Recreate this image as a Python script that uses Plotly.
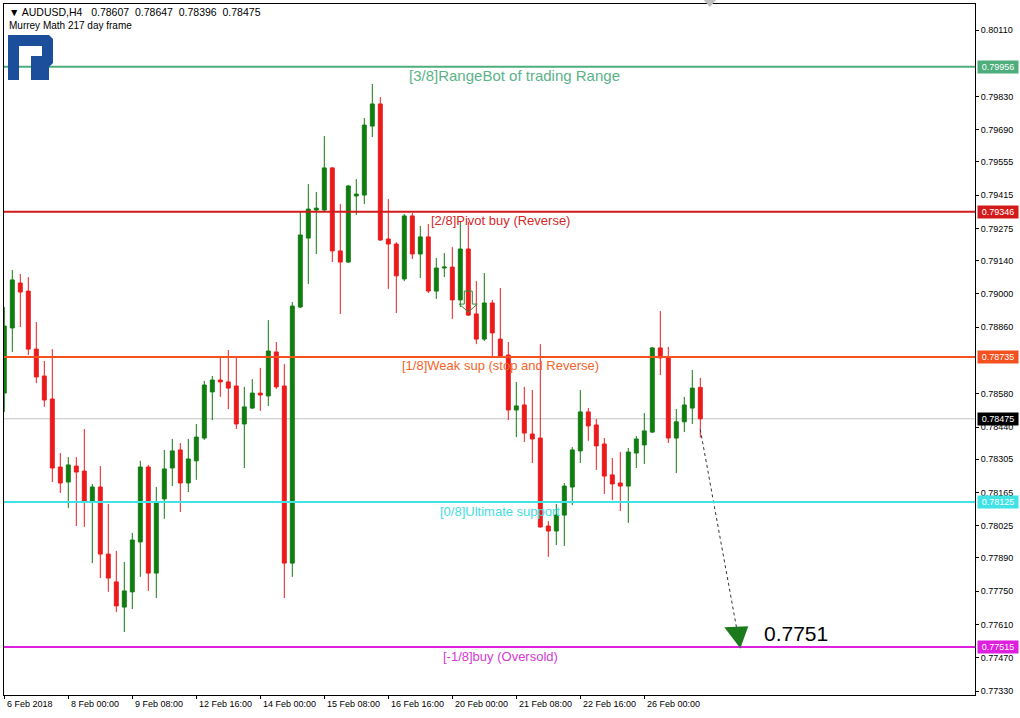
import plotly.graph_objects as go

# ---------------- data ----------------
symbol = "AUDUSD"
timeframe = "H4"
indicator_title = "Murrey Math 217 day frame"

time_labels = ["6 Feb 2018", "8 Feb 00:00", "9 Feb 08:00", "12 Feb 16:00", "14 Feb 00:00",
               "15 Feb 08:00", "16 Feb 16:00", "20 Feb 00:00", "21 Feb 08:00", "22 Feb 16:00",
               "26 Feb 00:00"]
label_bars = [0, 8, 16, 24, 32, 40, 48, 56, 64, 72, 80]

open_ = [0.78583, 0.78857, 0.79046, 0.79012, 0.78768, 0.78655, 0.78558, 0.78272, 0.78209, 0.78276,
         0.78255, 0.78125, 0.78188, 0.77906, 0.77789, 0.77683, 0.77747, 0.77957, 0.78272, 0.77826,
         0.78138, 0.78268, 0.78344, 0.78205, 0.78298, 0.78394, 0.78588, 0.78638, 0.78630, 0.78613,
         0.78453, 0.78520, 0.78583, 0.78571, 0.78756, 0.78613, 0.77868, 0.78945, 0.79235, 0.79353,
         0.79353, 0.79530, 0.79181, 0.79134, 0.79412, 0.79416, 0.79706, 0.79799, 0.79231, 0.79210,
         0.79063, 0.79328, 0.79168, 0.79240, 0.79012, 0.79109, 0.79113, 0.78975, 0.79189, 0.78916,
         0.78810, 0.78962, 0.78810, 0.78743, 0.78512, 0.78533, 0.78411, 0.78394, 0.78024, 0.78003,
         0.78070, 0.78188, 0.78340, 0.78504, 0.78449, 0.78369, 0.78239, 0.78205, 0.78192, 0.78331,
         0.78365, 0.78419, 0.78773, 0.78735, 0.78394, 0.78462, 0.78520, 0.78607]
high = [0.78945, 0.79101, 0.79084, 0.79071, 0.78882, 0.78718, 0.78768, 0.78331, 0.78314, 0.78314,
        0.78432, 0.78201, 0.78276, 0.78117, 0.77919, 0.77873, 0.77995, 0.78298, 0.78281, 0.78188,
        0.78344, 0.78390, 0.78373, 0.78390, 0.78453, 0.78634, 0.78655, 0.78735, 0.78764, 0.78735,
        0.78609, 0.78642, 0.78689, 0.78890, 0.78798, 0.78705, 0.78966, 0.79345, 0.79462, 0.79429,
        0.79664, 0.79534, 0.79378, 0.79458, 0.79483, 0.79740, 0.79883, 0.79828, 0.79399, 0.79218,
        0.79336, 0.79340, 0.79286, 0.79294, 0.79151, 0.79172, 0.79197, 0.79303, 0.79303, 0.79054,
        0.79088, 0.78975, 0.79025, 0.78798, 0.78630, 0.78609, 0.78596, 0.78789, 0.78045, 0.78117,
        0.78205, 0.78356, 0.78596, 0.78520, 0.78474, 0.78394, 0.78310, 0.78335, 0.78352, 0.78403,
        0.78499, 0.78777, 0.78928, 0.78777, 0.78516, 0.78567, 0.78680, 0.78647]
low = [0.78504, 0.78756, 0.78861, 0.78743, 0.78625, 0.78525, 0.78209, 0.78163, 0.78100, 0.78024,
       0.78020, 0.77868, 0.77805, 0.77747, 0.77662, 0.77578, 0.77675, 0.77810, 0.77751, 0.77721,
       0.78054, 0.78192, 0.78083, 0.78167, 0.78218, 0.78386, 0.78470, 0.78567, 0.78516, 0.78432,
       0.78268, 0.78516, 0.78508, 0.78529, 0.78600, 0.77721, 0.77810, 0.78941, 0.79042, 0.79168,
       0.79345, 0.79134, 0.78916, 0.79130, 0.79332, 0.79378, 0.79660, 0.79223, 0.79021, 0.78920,
       0.79054, 0.79147, 0.79067, 0.79004, 0.78979, 0.79071, 0.78895, 0.78945, 0.78907, 0.78789,
       0.78802, 0.78739, 0.78736, 0.78470, 0.78398, 0.78377, 0.78289, 0.78018, 0.77894, 0.77944,
       0.77940, 0.78112, 0.78289, 0.78382, 0.78260, 0.78159, 0.78133, 0.78087, 0.78037, 0.78268,
       0.78285, 0.78415, 0.78659, 0.78373, 0.78247, 0.78419, 0.78453, 0.78396]
close = [0.78865, 0.79059, 0.79008, 0.78768, 0.78651, 0.78554, 0.78268, 0.78205, 0.78281, 0.78251,
         0.78125, 0.78188, 0.77906, 0.77805, 0.77688, 0.77751, 0.77965, 0.78272, 0.77826, 0.78125,
         0.78264, 0.78340, 0.78205, 0.78306, 0.78398, 0.78617, 0.78638, 0.78630, 0.78604, 0.78453,
         0.78525, 0.78583, 0.78575, 0.78760, 0.78609, 0.77868, 0.78949, 0.79248, 0.79357, 0.79361,
         0.79530, 0.79181, 0.79134, 0.79454, 0.79420, 0.79710, 0.79799, 0.79227, 0.79210, 0.79076,
         0.79328, 0.79168, 0.79240, 0.79012, 0.79109, 0.79113, 0.78975, 0.79189, 0.78911, 0.78810,
         0.78962, 0.78836, 0.78739, 0.78512, 0.78529, 0.78415, 0.78390, 0.78020, 0.78003, 0.78070,
         0.78192, 0.78344, 0.78504, 0.78445, 0.78361, 0.78234, 0.78201, 0.78192, 0.78335, 0.78390,
         0.78424, 0.78773, 0.78731, 0.78394, 0.78462, 0.78533, 0.78604, 0.78475]

# price scale ticks (those hidden behind the level boxes in the reference are left out)
price_ticks = [0.80110, 0.79830, 0.79690, 0.79555, 0.79415, 0.79275, 0.79140, 0.79000,
               0.78860, 0.78580, 0.78440, 0.78305, 0.78165, 0.78025, 0.77890, 0.77750,
               0.77610, 0.77470, 0.77330]

level_prices = [0.79956, 0.79346, 0.78735, 0.78125, 0.77515]
level_names = ["[3/8]RangeBot of trading Range", "[2/8]Pivot buy (Reverse)",
               "[1/8]Weak sup (stop and Reverse)", "[0/8]Ultimate support", "[-1/8]buy (Oversold)"]

forecast_start = (87, 0.78430)
forecast_target = (92, 0.7751)
signal_arrow = (58, 0.79012)

# ---------------- style ----------------
BULL = "#117D11"
BEAR = "#EC1B1B"
level_colors = ["#4DAE7C", "#D31A1A", "#F4511E", "#3FE3E6", "#DE1FDE"]
level_text_colors = ["#5CB388", "#D42828", "#F2652A", "#45DDE3", "#D43AD4"]
level_text_x = [63.8, 62.0, 62.0, 62.0, 62.0]
level_text_size = [15, 13, 13, 13, 13]
FONT = "Liberation Sans"

bars = list(range(len(open_)))

fig = go.Figure()
fig.add_trace(go.Candlestick(
    x=bars, open=open_, high=high, low=low, close=close,
    increasing=dict(line=dict(color=BULL, width=1), fillcolor=BULL),
    decreasing=dict(line=dict(color=BEAR, width=1), fillcolor=BEAR),
    whiskerwidth=0, showlegend=False, hoverinfo="skip"))

# forecast dotted path
fig.add_trace(go.Scatter(
    x=[forecast_start[0], forecast_target[0]], y=[forecast_start[1], forecast_target[1]],
    mode="lines", line=dict(color="#333333", width=1, dash="dot"),
    showlegend=False, hoverinfo="skip"))

shapes = []
annotations = []

# current price line
shapes.append(dict(type="line", xref="paper", x0=0, x1=1, yref="y", y0=close[-1], y1=close[-1],
                   line=dict(color="#C4C4C4", width=1), layer="below"))

for p, name, c, tc, tx, ts in zip(level_prices, level_names, level_colors, level_text_colors,
                                  level_text_x, level_text_size):
    shapes.append(dict(type="line", xref="paper", x0=0, x1=1, yref="y", y0=p, y1=p,
                       line=dict(color=c, width=2), layer="above"))
    annotations.append(dict(x=tx, xref="x", y=p, yref="y", yshift=-9, text=name, showarrow=False,
                            xanchor="center", yanchor="middle",
                            font=dict(family=FONT, size=ts, color=tc)))
    annotations.append(dict(x=1, xref="paper", xanchor="left", xshift=2, y=p, yref="y",
                            yanchor="middle", text=f"{p:.5f}", showarrow=False, bgcolor=c,
                            borderpad=1, width=38, font=dict(family=FONT, size=9, color="white")))

# current price box
annotations.append(dict(x=1, xref="paper", xanchor="left", xshift=2, y=close[-1], yref="y",
                        yanchor="middle", text=f"{close[-1]:.5f}", showarrow=False, bgcolor="black",
                        borderpad=1, width=38, font=dict(family=FONT, size=9, color="white")))

# time labels (left aligned at tick like MT4)
for b, lab in zip(label_bars, time_labels):
    annotations.append(dict(x=b, xref="x", y=0, yref="paper", xanchor="left", yanchor="top",
                            xshift=1, yshift=-2, text=lab, showarrow=False,
                            font=dict(family=FONT, size=9, color="black")))

# header
ohlc_txt = "  ".join(f"{v:.5f}" for v in (open_[-1], high[-1], low[-1], close[-1]))
annotations.append(dict(x=0, xref="paper", y=1, yref="paper", xanchor="left", yanchor="middle",
                        xshift=3, yshift=-8,
                        text=f"▼ {symbol},{timeframe}   {ohlc_txt}",
                        showarrow=False, font=dict(family=FONT, size=10.5, color="black")))
annotations.append(dict(x=0, xref="paper", y=1, yref="paper", xanchor="left", yanchor="middle",
                        xshift=3, yshift=-21, text=indicator_title, showarrow=False,
                        font=dict(family=FONT, size=10, color="black")))

# target label
annotations.append(dict(x=forecast_target[0], xref="x", y=forecast_target[1], yref="y",
                        xanchor="left", yanchor="middle", xshift=22, yshift=15,
                        text=f"{forecast_target[1]:.4f}", showarrow=False,
                        font=dict(family=FONT, size=21, color="black")))

# target arrow head
shapes.append(dict(type="path", xref="x", yref="y", xsizemode="pixel", ysizemode="pixel",
                   xanchor=forecast_target[0], yanchor=forecast_target[1],
                   path="M0,0 L-16,21 L8,22 Z", fillcolor="#1B7A1B", line=dict(width=0),
                   layer="above"))

# signal arrow (hollow)
shapes.append(dict(type="path", xref="x", yref="y", xsizemode="pixel", ysizemode="pixel",
                   xanchor=signal_arrow[0], yanchor=signal_arrow[1],
                   path="M-4,0 L4,0 L4,-13 L9,-13 L0,-21 L-9,-13 L-4,-13 Z",
                   fillcolor="rgba(0,0,0,0)", line=dict(color="#2E8B2E", width=1), layer="above"))

# chart shift marker
shapes.append(dict(type="path", xref="x", yref="paper", xsizemode="pixel", ysizemode="pixel",
                   xanchor=88.2, yanchor=1, path="M-7,5 L7,5 L0,-3 Z",
                   fillcolor="#BDBDBD", line=dict(width=0), layer="above"))

# logo
LOGO = "#1B4F9C"
shapes.append(dict(type="path", xref="paper", yref="paper", xsizemode="pixel", ysizemode="pixel",
                   xanchor=0, yanchor=1, path="M4,-31 L15,-31 L15,-76 L4,-76 Z",
                   fillcolor=LOGO, line=dict(width=0), layer="above"))
shapes.append(dict(type="path", xref="paper", yref="paper", xsizemode="pixel", ysizemode="pixel",
                   xanchor=0, yanchor=1,
                   path="M15,-31 L45,-31 L49,-35 L49,-59 L45,-63 L45,-76 L27,-76 L27,-52 L38,-52 "
                        "L38,-42 L15,-42 Z",
                   fillcolor=LOGO, line=dict(width=0), layer="above"))

fig.update_layout(
    width=1020, height=718,
    margin=dict(l=4, r=45, t=4, b=23),
    paper_bgcolor="white", plot_bgcolor="white",
    showlegend=False,
    shapes=shapes, annotations=annotations,
    xaxis=dict(range=[-0.0375, 121.3375], showgrid=False, zeroline=False, showline=True,
               linecolor="black", linewidth=1, mirror=True, ticks="outside", ticklen=3,
               tickcolor="black", tickvals=label_bars, showticklabels=False,
               rangeslider=dict(visible=False), fixedrange=True),
    yaxis=dict(range=[0.773133, 0.802194], side="right", showgrid=False, zeroline=False,
               showline=True, linecolor="black", linewidth=1, mirror=True, ticks="outside",
               ticklen=3, tickcolor="black", tickvals=price_ticks,
               ticktext=[f"{v:.5f}" for v in price_ticks],
               tickfont=dict(family=FONT, size=9, color="black"), fixedrange=True),
)

fig.write_html("out.html", config={"displayModeBar": False},
               post_script="document.body.style.margin='0px';")
